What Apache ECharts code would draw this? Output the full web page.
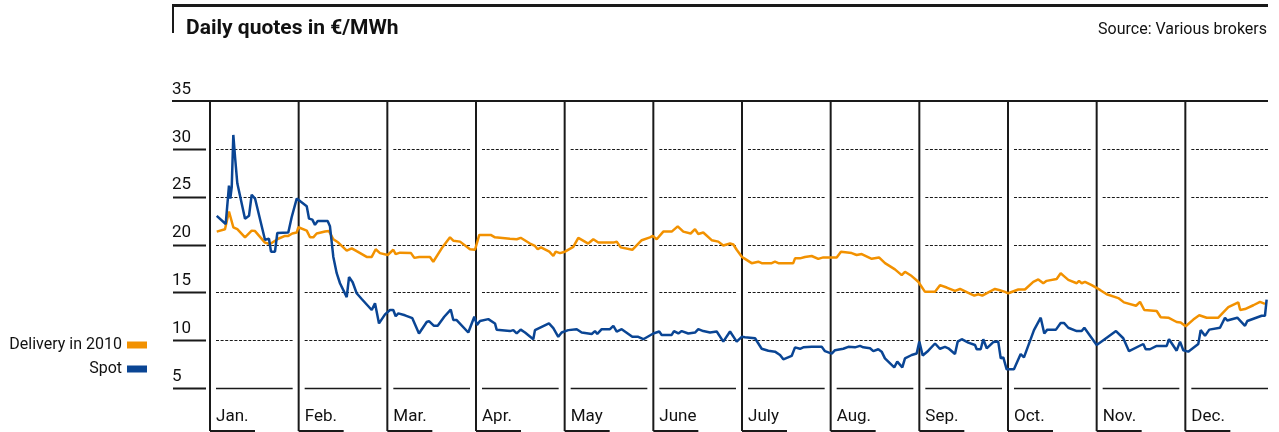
<!DOCTYPE html>
<html>
<head>
<meta charset="utf-8">
<script src="https://cdn.jsdelivr.net/npm/echarts@6/dist/echarts.min.js"></script>
<style>
  html, body { margin: 0; padding: 0; background: #fff; }
  #chart { width: 1279px; height: 432px; }
</style>
</head>
<body>
<div id="chart"></div>
<script>
// months as equal-width columns, x = position in months (0 = start of Jan.)
const months = ['Jan.', 'Feb.', 'Mar.', 'Apr.', 'May', 'June', 'July', 'Aug.', 'Sep.', 'Oct.', 'Nov.', 'Dec.'];
const yTicks = [5, 10, 15, 20, 25, 30, 35];

// Delivery in 2010 (EUR/MWh)
const deliveryX = [0.076,0.169,0.214,0.263,0.308,0.395,0.470,0.508,0.620,0.677,0.770,0.846,0.883,0.928,0.978,0.996,
  1.091,1.128,1.165,1.203,1.297,1.342,1.391,1.447,1.542,1.598,1.654,1.767,1.824,1.869,1.917,
  2.004,2.067,2.094,2.143,2.267,2.304,2.360,2.481,2.518,2.613,2.707,2.744,2.820,2.932,2.989,
  3.037,3.166,3.214,3.383,3.459,3.504,3.609,3.665,3.696,3.733,3.827,3.872,3.899,3.947,
  4.004,4.097,4.154,4.266,4.323,4.379,4.549,4.587,4.632,4.763,4.869,4.962,4.993,
  5.038,5.112,5.207,5.275,5.338,5.421,5.470,5.507,5.563,5.658,5.733,5.789,5.865,5.902,5.940,
  6.000,6.034,6.109,6.184,6.222,6.335,6.372,6.410,6.578,6.598,6.654,6.710,6.786,6.860,6.917,
  7.068,7.116,7.237,7.293,7.350,7.463,7.545,7.613,7.725,7.801,7.838,7.914,7.988,
  8.064,8.177,8.233,8.309,8.402,8.459,8.552,8.620,8.665,8.710,8.778,8.853,8.898,8.966,
  9.003,9.116,9.191,9.285,9.342,9.398,9.436,9.549,9.594,9.631,9.680,9.775,9.801,9.831,9.868,9.944,
  10.038,10.113,10.244,10.308,10.444,10.489,10.537,10.677,10.722,10.808,10.902,10.947,
  11.004,11.090,11.157,11.241,11.372,11.428,11.485,11.597,11.619,11.673,11.767,11.842,11.898];
const deliveryY = [21.35,21.6,23.45,21.8,21.6,20.75,21.45,21.4,20.2,20.05,20.6,20.9,20.9,21.15,21.25,21.8,
  21.45,20.75,20.75,21.15,21.35,21.4,20.55,20.2,19.35,19.6,19.3,18.7,18.7,19.5,19.1,
  18.9,19.45,19.0,19.15,19.1,18.6,18.7,18.7,18.2,19.6,20.75,20.4,20.3,19.5,19.45,
  21.0,21.0,20.75,20.6,20.55,20.7,20.1,19.85,19.5,19.7,19.25,18.8,19.25,19.1,
  19.25,19.75,20.7,20.1,20.55,20.2,20.2,20.3,19.7,19.45,20.45,20.75,20.9,
  20.55,21.35,21.35,21.9,21.35,21.15,21.6,21.1,21.25,20.45,20.3,19.9,20.1,20.0,19.45,
  18.7,18.5,18.05,18.2,18.05,18.05,18.2,18.05,18.05,18.55,18.55,18.7,18.8,18.5,18.65,
  18.65,19.25,19.1,18.9,19.0,18.5,18.65,18.05,17.4,16.8,17.15,16.7,16.1,
  15.05,15.05,15.75,15.5,15.15,15.35,14.95,14.65,14.8,14.65,15.0,15.35,15.25,15.05,
  14.9,15.3,15.3,16.1,16.35,15.95,16.2,16.4,17.0,16.7,16.3,15.95,16.2,15.95,16.1,15.75,
  15.25,14.8,14.4,13.95,13.6,14.0,13.15,13.05,12.4,12.35,11.9,11.85,
  11.45,12.15,12.6,12.35,12.35,12.9,13.45,13.95,13.15,13.25,13.65,14.0,13.8];

// Spot (EUR/MWh)
const spotX = [0.076,0.177,0.214,0.229,0.245,0.263,0.282,0.308,0.395,0.440,0.470,0.508,0.620,0.665,0.688,0.733,0.759,0.883,0.921,0.978,0.996,
  1.091,1.117,1.154,1.184,1.215,1.327,1.353,1.391,1.429,1.466,1.542,1.568,1.609,1.654,1.711,1.824,1.861,1.906,1.974,
  2.030,2.067,2.094,2.124,2.199,2.282,2.357,2.444,2.470,2.526,2.568,2.642,2.715,2.744,2.782,2.913,2.932,2.981,
  3.011,3.045,3.139,3.214,3.233,3.383,3.421,3.459,3.504,3.553,3.646,3.665,3.823,3.872,3.928,3.966,
  4.041,4.136,4.192,4.305,4.342,4.368,4.418,4.511,4.549,4.587,4.643,4.763,4.830,4.887,
  5.000,5.067,5.094,5.207,5.233,5.282,5.320,5.394,5.470,5.507,5.563,5.639,5.715,5.789,5.865,5.940,5.997,
  6.034,6.147,6.222,6.297,6.372,6.429,6.466,6.560,6.598,6.654,6.691,6.786,6.899,6.936,
  7.012,7.049,7.142,7.199,7.274,7.331,7.368,7.444,7.481,7.537,7.575,7.612,7.717,7.751,7.808,7.838,7.914,7.970,
  8.000,8.038,8.101,8.177,8.233,8.289,8.327,8.402,8.433,8.478,8.552,8.628,8.647,8.692,8.721,8.760,8.834,8.890,8.918,8.947,8.985,
  9.067,9.143,9.180,9.293,9.369,9.409,9.443,9.541,9.594,9.631,9.680,9.775,9.831,9.861,
  10.000,10.075,10.218,10.300,10.365,10.526,10.553,10.601,10.677,10.790,10.816,10.902,10.940,10.977,
  11.033,11.146,11.173,11.222,11.270,11.391,11.447,11.473,11.586,11.673,11.699,11.861,11.898,11.917];
const spotY = [23.0,22.14,26.15,24.8,26.0,31.45,29.2,26.4,22.7,23.0,25.2,24.8,20.5,20.6,19.25,19.25,21.2,21.25,22.85,24.8,24.9,
  24.0,22.7,22.6,22.05,22.45,22.45,21.9,18.7,17.0,15.95,14.5,16.6,16.05,14.9,14.3,13.15,13.85,11.75,12.7,
  13.15,13.15,12.5,12.8,12.6,12.3,10.7,11.9,12.0,11.5,11.5,12.45,13.2,12.1,12.1,10.8,10.8,12.45,
  11.6,12.0,12.2,11.75,11.1,10.95,11.05,10.7,11.1,10.8,10.1,11.05,11.75,11.25,10.35,10.8,
  11.05,11.15,10.8,10.65,10.95,10.65,11.15,11.15,11.5,10.9,11.15,10.35,10.35,10.1,
  10.7,10.9,10.55,10.55,10.95,10.7,10.95,10.7,10.8,11.15,10.95,10.8,10.9,9.85,10.9,9.85,10.35,
  10.3,10.2,9.1,8.9,8.8,8.45,8.0,8.35,9.25,9.1,9.25,9.3,9.3,8.85,
  8.6,8.95,9.1,9.3,9.25,9.4,9.25,9.15,8.85,9.05,8.8,8.1,7.15,7.75,7.15,8.1,8.45,8.6,
  9.85,8.4,8.9,9.65,9.1,9.3,9.15,8.55,9.85,10.1,9.75,9.5,9.05,9.05,10.1,9.15,9.8,9.85,8.1,8.2,6.95,
  6.95,8.55,8.2,11.05,12.35,10.7,11.1,11.1,11.8,11.8,11.3,10.95,10.95,11.3,
  9.5,10.0,10.95,10.2,8.85,9.6,9.05,9.05,9.4,9.4,10.1,8.9,9.85,8.95,
  8.8,9.6,11.05,10.45,11.1,11.3,12.35,12.05,12.35,11.5,12.0,12.55,12.55,14.25];

const deliveryData = deliveryX.map((x, i) => [x, deliveryY[i]]);
const spotData = spotX.map((x, i) => [x, spotY[i]]);

const FONT = 'Roboto, "Noto Sans", sans-serif';
const INK = '#1a1a1a';

const chart = echarts.init(document.getElementById('chart'), null, { renderer: 'canvas' });

// month columns with their own gridlines, the left ticks and the top rule
function renderFrame(params, api) {
  const i = api.value(0);
  const top = api.coord([i, yTicks[yTicks.length - 1]]);
  const bottom = api.coord([i, yTicks[0]]);
  const colW = api.size([1, 0])[0];
  const x = top[0];
  const baseY = bottom[1] + 43;
  const children = [];
  children.push({ type: 'line', shape: { x1: x, y1: top[1], x2: x, y2: baseY }, style: { stroke: INK, lineWidth: 2 } });
  children.push({ type: 'line', shape: { x1: x, y1: baseY, x2: x + 45, y2: baseY }, style: { stroke: INK, lineWidth: 2 } });
  yTicks.slice(0, -1).forEach(function (t) {
    const y = Math.round(api.coord([i, t])[1]) + 0.5;
    children.push({
      type: 'line',
      shape: { x1: x + 6, y1: y, x2: x + colW - 6, y2: y },
      style: t === yTicks[0]
        ? { stroke: INK, lineWidth: 1.5 }
        : { stroke: INK, lineWidth: 1.2, lineDash: [3, 1.6] }
    });
    if (i === 0) {
      children.push({ type: 'line', shape: { x1: x - 37, y1: y, x2: x - 4, y2: y }, style: { stroke: INK, lineWidth: 2 } });
    }
  });
  if (i === 0) {
    const yt = top[1];
    children.push({ type: 'line', shape: { x1: x - 38, y1: yt, x2: x + 12 * colW - 6, y2: yt }, style: { stroke: INK, lineWidth: 2 } });
  }
  return { type: 'group', children: children };
}

const option = {
  animation: false,
  backgroundColor: '#fff',
  textStyle: { fontFamily: FONT },
  title: [
    { text: 'Daily quotes in €/MWh', left: 186, top: 18, padding: 0,
      textStyle: { fontFamily: FONT, fontSize: 21, fontWeight: 'bold', color: '#111' } },
    { text: 'Source: Various brokers', right: 12, top: 22, padding: 0,
      textStyle: { fontFamily: FONT, fontSize: 16, fontWeight: 'normal', color: '#111' } }
  ],
  graphic: [
    { type: 'line', shape: { x1: 172, y1: 5.5, x2: 1268, y2: 5.5 }, style: { stroke: INK, lineWidth: 3 } },
    { type: 'line', shape: { x1: 173, y1: 5, x2: 173, y2: 33 }, style: { stroke: INK, lineWidth: 2 } }
  ],
  legend: {
    data: ['Delivery in 2010', 'Spot'],
    orient: 'vertical',
    align: 'right',
    right: 1132,
    top: 337,
    padding: 0,
    itemWidth: 20,
    itemHeight: 7,
    itemGap: 8,
    icon: 'rect',
    selectedMode: false,
    textStyle: { fontFamily: FONT, fontSize: 16, color: '#111' }
  },
  grid: { left: 210, right: 5, top: 101, bottom: 44 },
  xAxis: {
    type: 'value', min: 0, max: 12, interval: 1,
    axisLine: { show: false }, axisTick: { show: false }, splitLine: { show: false },
    axisLabel: {
      margin: 20, align: 'left', padding: [0, 0, 0, 6],
      fontFamily: FONT, fontSize: 17, color: '#111',
      formatter: function (v) { return months[v] || ''; }
    }
  },
  yAxis: {
    type: 'value', min: 5, max: 35, interval: 5,
    axisLine: { show: false }, axisTick: { show: false }, splitLine: { show: false },
    axisLabel: {
      margin: 38, align: 'left', verticalAlign: 'bottom', padding: [0, 0, 3, 0],
      fontFamily: FONT, fontSize: 17, color: '#111'
    }
  },
  series: [
    {
      type: 'custom', name: 'frame', silent: true, z: 1,
      renderItem: renderFrame,
      encode: { x: 0 },
      data: months.map(function (m, i) { return [i]; })
    },
    {
      type: 'line', name: 'Delivery in 2010', data: deliveryData, z: 3,
      showSymbol: false, symbol: 'none',
      itemStyle: { color: '#f29100' },
      lineStyle: { color: '#f29100', width: 2.5 }
    },
    {
      type: 'line', name: 'Spot', data: spotData, z: 4,
      showSymbol: false, symbol: 'none',
      itemStyle: { color: '#0a4594' },
      lineStyle: { color: '#0a4594', width: 2.5 }
    }
  ]
};
chart.setOption(option);
</script>
</body>
</html>
